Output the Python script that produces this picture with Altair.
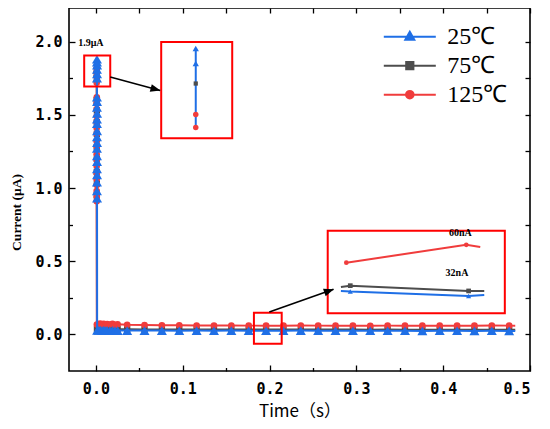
import altair as alt
import pandas as pd

SERIES = ["25℃", "75℃", "125℃"]
COLOR_LIST = ["#1f6fe6", "#4d4d4d", "#f03c3c"]
BLUE, GRAY, RED = COLOR_LIST
BOX_RED = "#ff0000"

# ---------------- main data: time (s), current (uA) ----------------
spike_t_25 = [0.0012, 0.0012, 0.0013, 0.0012, 0.0013, 0.0012, 0.0012, 0.0013,
              0.0012, 0.0013, 0.0012, 0.0012, 0.0013, 0.0012, 0.0013, 0.0012,
              0.0012, 0.0013, 0.0012, 0.0013, 0.0012, 0.0012, 0.0013, 0.0014]
spike_i_25 = [1.88, 1.86, 1.84, 1.81, 1.78, 1.75, 1.62, 1.59,
              1.55, 1.51, 1.47, 1.44, 1.39, 1.35, 1.31, 1.27,
              1.22, 1.18, 1.13, 1.09, 1.04, 0.98, 0.93, 0.027]

spike_t_75 = [0.0011, 0.0010, 0.0011, 0.0010, 0.0011, 0.0010, 0.0011, 0.0010,
              0.0011, 0.0010, 0.0011, 0.0010, 0.0012]
spike_i_75 = [1.80, 1.78, 1.75, 1.60, 1.53, 1.45, 1.37, 1.28,
              1.20, 1.11, 1.03, 0.95, 0.037]

spike_t_125 = [0.0010, 0.0009, 0.0010, 0.0009, 0.0010, 0.0009, 0.0010, 0.0009,
               0.0010, 0.0009, 0.0010, 0.0009, 0.0010, 0.0009, 0.0010, 0.0009,
               0.0010, 0.0009, 0.0010, 0.0009, 0.0010, 0.0009, 0.0011]
spike_i_125 = [1.82, 1.79, 1.76, 1.72, 1.62, 1.58, 1.54, 1.49,
               1.45, 1.41, 1.37, 1.32, 1.28, 1.23, 1.19, 1.15,
               1.10, 1.06, 1.02, 0.98, 0.94, 0.91, 0.068]

t_base = [0.003, 0.005, 0.007, 0.009, 0.011, 0.013, 0.016, 0.019, 0.022, 0.025,
          0.036, 0.056, 0.076, 0.096, 0.116, 0.136, 0.156, 0.176, 0.196, 0.216,
          0.236, 0.256, 0.276, 0.296, 0.316, 0.336, 0.356, 0.376, 0.396, 0.416,
          0.436, 0.456, 0.476, 0.483]
base_i_25 = [0.028, 0.030, 0.027, 0.029, 0.027, 0.028, 0.026, 0.028, 0.027, 0.026,
             0.026, 0.026, 0.026, 0.025, 0.026, 0.025, 0.026, 0.025, 0.025, 0.025,
             0.026, 0.025, 0.025, 0.025, 0.025, 0.025, 0.025, 0.024, 0.025, 0.025,
             0.024, 0.025, 0.024, 0.024]
base_i_75 = [0.037, 0.039, 0.036, 0.038, 0.036, 0.037, 0.035, 0.037, 0.036, 0.035,
             0.035, 0.034, 0.034, 0.034, 0.034, 0.033, 0.034, 0.033, 0.033, 0.033,
             0.033, 0.033, 0.033, 0.033, 0.032, 0.033, 0.032, 0.032, 0.032, 0.032,
             0.032, 0.032, 0.032, 0.032]
base_i_125 = [0.070, 0.074, 0.067, 0.072, 0.066, 0.071, 0.068, 0.072, 0.065, 0.069,
              0.066, 0.064, 0.062, 0.062, 0.061, 0.061, 0.061, 0.060, 0.060, 0.060,
              0.061, 0.060, 0.060, 0.060, 0.059, 0.060, 0.060, 0.060, 0.060, 0.060,
              0.060, 0.061, 0.060, 0.060]

# ---------------- zoomed insets ----------------
in1_line_t = [0.115, 0.115]
in1_line_i = [1.954, 1.413]
in1_tri_t = [0.115, 0.115]
in1_tri_i = [1.954, 1.851]
in1_sq_t = [0.115]
in1_sq_i = [1.714]
in1_cir_t = [0.115, 0.115]
in1_cir_i = [1.502, 1.413]

in2_t_125 = [0.2884, 0.4266, 0.4427]
in2_i_125 = [0.490, 0.612, 0.5975]
in2_mk_125 = [1, 1, 0]
in2_t_75 = [0.2822, 0.293, 0.4293, 0.4473]
in2_i_75 = [0.324, 0.333, 0.297, 0.297]
in2_mk_75 = [0, 1, 1, 0]
in2_t_25 = [0.2822, 0.293, 0.4293, 0.4473]
in2_i_25 = [0.297, 0.293, 0.262, 0.269]
in2_mk_25 = [0, 1, 1, 0]

# annotation boxes, arrows, labels (data coordinates)
box_x = [-0.0135, 0.0752, 0.182, 0.267]
box_x2 = [0.0165, 0.157, 0.214, 0.471]
box_y = [1.694, 1.34, -0.064, 0.144]
box_y2 = [1.906, 1.997, 0.148, 0.708]
arrow_x = [0.0165, 0.1997]
arrow_y = [1.758, 0.153]
arrow_x2 = [0.074, 0.2737]
arrow_y2 = [1.666, 0.308]
head_x = [0.0685, 0.2683]
head_y = [1.675, 0.2966]
head_angle = [104.9, 70.5]
note_text = ["1.9μA", "60nA", "32nA"]
note_x = [-0.0204, 0.4197, 0.4159]
note_y = [1.993, 0.696, 0.418]
note_align = ["left", "center", "center"]

x_major = [0.0, 0.1, 0.2, 0.3, 0.4, 0.5]
x_minor = [0.05, 0.15, 0.25, 0.35, 0.45]
x_all = [0.0, 0.05, 0.1, 0.15, 0.2, 0.25, 0.3, 0.35, 0.4, 0.45, 0.5]
y_major = [0.0, 0.5, 1.0, 1.5, 2.0]
y_minor = [0.25, 0.75, 1.25, 1.75]
y_all = [0.0, 0.25, 0.5, 0.75, 1.0, 1.25, 1.5, 1.75, 2.0]

LEGEND_PATHS = [
    "M-2.6,0H2.6M0,-0.5L0.45,0.3L-0.45,0.3Z",
    "M-2.6,0H2.6M-0.36,-0.36H0.36V0.36H-0.36Z",
    "M-2.6,0H2.6M-0.38,0A0.38,0.38,0,1,0,0.38,0A0.38,0.38,0,1,0,-0.38,0Z",
]
ARROW_PATH = "M0,-1L0.75,0.9L-0.75,0.9Z"


def make_df(name, ts, vals):
    d = pd.DataFrame({"t": ts, "i": vals})
    d["series"] = name
    d["idx"] = range(len(d))
    return d


main = {
    "25℃": make_df("25℃", spike_t_25 + t_base, spike_i_25 + base_i_25),
    "75℃": make_df("75℃", spike_t_75 + t_base, spike_i_75 + base_i_75),
    "125℃": make_df("125℃", spike_t_125 + t_base, spike_i_125 + base_i_125),
}

XS = alt.Scale(domain=[-0.031, 0.5], nice=False, zero=False)
YS = alt.Scale(domain=[-0.25, 2.23], nice=False, zero=False)

TICKF = "DejaVu Sans Mono"
ax_x_major = alt.Axis(orient="bottom", values=x_major, format=".1f", tickSize=6, offset=-6,
                      labelPadding=10, labelFont=TICKF, labelFontSize=15, labelFontWeight="bold",
                      title="Time（s）", titleFont="Noto Sans CJK SC", titleFontSize=17,
                      titleFontWeight="normal", titleY=46, titleBaseline="middle")
ax_y_major = alt.Axis(orient="left", values=y_major, format=".1f", tickSize=6, offset=-6,
                      labelPadding=7, labelFont=TICKF, labelFontSize=15, labelFontWeight="bold",
                      title="Current (μA)", titleFont="Liberation Serif", titleFontSize=13.5,
                      titleFontWeight="bold", titleX=-59, titleY=204, titleBaseline="middle")
ax_x_minor = alt.Axis(orient="bottom", values=x_minor, tickSize=3.5, offset=-3.5, labels=False, title="")
ax_y_minor = alt.Axis(orient="left", values=y_minor, tickSize=3.5, offset=-3.5, labels=False, title="")
ax_x_top = alt.Axis(orient="top", values=x_all, tickSize=5, offset=-5, labels=False, title="")
ax_y_right = alt.Axis(orient="right", values=y_all, tickSize=5, offset=-5, labels=False, title="")


def X(field="t", axis=None):
    if axis is None:
        return alt.X(f"{field}:Q", scale=XS, axis=None)
    return alt.X(f"{field}:Q", scale=XS, axis=axis)


def Y(field="i", axis=None):
    if axis is None:
        return alt.Y(f"{field}:Q", scale=YS, axis=None)
    return alt.Y(f"{field}:Q", scale=YS, axis=axis)


def line_layer(df, color, width=2, xa=None, ya=None):
    return alt.Chart(df).mark_line(color=color, strokeWidth=width).encode(
        x=X(axis=xa), y=Y(axis=ya), order="idx:Q")


def point_layer(df, color, shape, size, xa=None, ya=None, flt="datum.t < 0.48"):
    return alt.Chart(df).transform_filter(flt).mark_point(
        shape=shape, filled=True, color=color, size=size, opacity=1, strokeWidth=0
    ).encode(x=X(axis=xa), y=Y(axis=ya))


layers = [
    line_layer(main["75℃"], GRAY),
    point_layer(main["75℃"], GRAY, "square", 40),
    line_layer(main["125℃"], RED, xa=ax_x_top, ya=ax_y_right),
    point_layer(main["125℃"], RED, "circle", 44),
    line_layer(main["25℃"], BLUE, xa=ax_x_major, ya=ax_y_major),
    point_layer(main["25℃"], BLUE, "triangle-up", 100, xa=ax_x_minor, ya=ax_y_minor),
]

# annotation boxes
boxes = pd.DataFrame({"x": box_x, "x2": box_x2, "y": box_y, "y2": box_y2})
layers.append(alt.Chart(boxes).mark_rect(fillOpacity=0, stroke=BOX_RED, strokeWidth=2).encode(
    x=X("x"), x2="x2:Q", y=Y("y"), y2="y2:Q"))

# arrows
arrows = pd.DataFrame({"x": arrow_x, "y": arrow_y, "x2": arrow_x2, "y2": arrow_y2})
layers.append(alt.Chart(arrows).mark_rule(color="black", strokeWidth=1.6).encode(
    x=X("x"), y=Y("y"), x2="x2:Q", y2="y2:Q"))
for k in range(2):
    hd = pd.DataFrame({"x": [head_x[k]], "y": [head_y[k]]})
    layers.append(alt.Chart(hd).mark_point(shape=ARROW_PATH, filled=True, color="black", size=112,
                                           opacity=1, angle=head_angle[k], strokeWidth=0).encode(
        x=X("x"), y=Y("y")))

# inset 1 (zoom of the spike top)
layers.append(line_layer(make_df("25℃", in1_line_t, in1_line_i), BLUE))
layers.append(point_layer(make_df("25℃", in1_tri_t, in1_tri_i), BLUE, "triangle-up", 40, flt="true"))
layers.append(point_layer(make_df("75℃", in1_sq_t, in1_sq_i), GRAY, "square", 18, flt="true"))
layers.append(point_layer(make_df("125℃", in1_cir_t, in1_cir_i), RED, "circle", 30, flt="true"))

# inset 2 (zoom of the baseline)
for name, ts, vs, mk, col, shp, sz in [
    ("125℃", in2_t_125, in2_i_125, in2_mk_125, RED, "circle", 22),
    ("75℃", in2_t_75, in2_i_75, in2_mk_75, GRAY, "square", 22),
    ("25℃", in2_t_25, in2_i_25, in2_mk_25, BLUE, "triangle-up", 26),
]:
    d = make_df(name, ts, vs)
    d["mk"] = mk
    layers.append(line_layer(d, col))
    layers.append(point_layer(d, col, shp, sz, flt="datum.mk == 1"))

# text notes
for k in range(3):
    nd = pd.DataFrame({"x": [note_x[k]], "y": [note_y[k]], "txt": [note_text[k]]})
    layers.append(alt.Chart(nd).mark_text(font="Liberation Serif", fontWeight="bold", fontSize=10,
                                          align=note_align[k], baseline="middle", color="black").encode(
        x=X("x"), y=Y("y"), text="txt:N"))

# legend (real Vega-Lite legend, no marks drawn)
leg = alt.Legend(title="", orient="none", legendX=328.8, legendY=16.7, symbolSize=400,
                 symbolStrokeWidth=2, labelFont="Liberation Serif", labelFontSize=24,
                 labelColor="#000", labelOffset=25.5, rowPadding=5, padding=0, symbolOpacity=1)
leg_df = pd.DataFrame({"series": SERIES})
layers.append(alt.Chart(leg_df).transform_filter("false").mark_point(filled=True, opacity=1).encode(
    fill=alt.Fill("series:N", scale=alt.Scale(domain=SERIES, range=COLOR_LIST), legend=leg),
    stroke=alt.Stroke("series:N", scale=alt.Scale(domain=SERIES, range=COLOR_LIST), legend=leg),
    shape=alt.Shape("series:N", scale=alt.Scale(domain=SERIES, range=LEGEND_PATHS), legend=leg),
))

chart = alt.layer(*layers).resolve_axis(x="independent", y="independent").properties(
    width=461, height=363,
    autosize=alt.AutoSizeParams(type="none"),
    padding={"left": 61, "top": 0, "right": 12, "bottom": 50},
    background="white",
).configure_view(stroke="#000", strokeWidth=1.6).configure_axis(
    domain=False, grid=False, tickColor="#000", tickWidth=1.3, labelColor="#000", titleColor="#000"
)

chart.save("out.html", embed_options={"renderer": "svg", "actions": False})
